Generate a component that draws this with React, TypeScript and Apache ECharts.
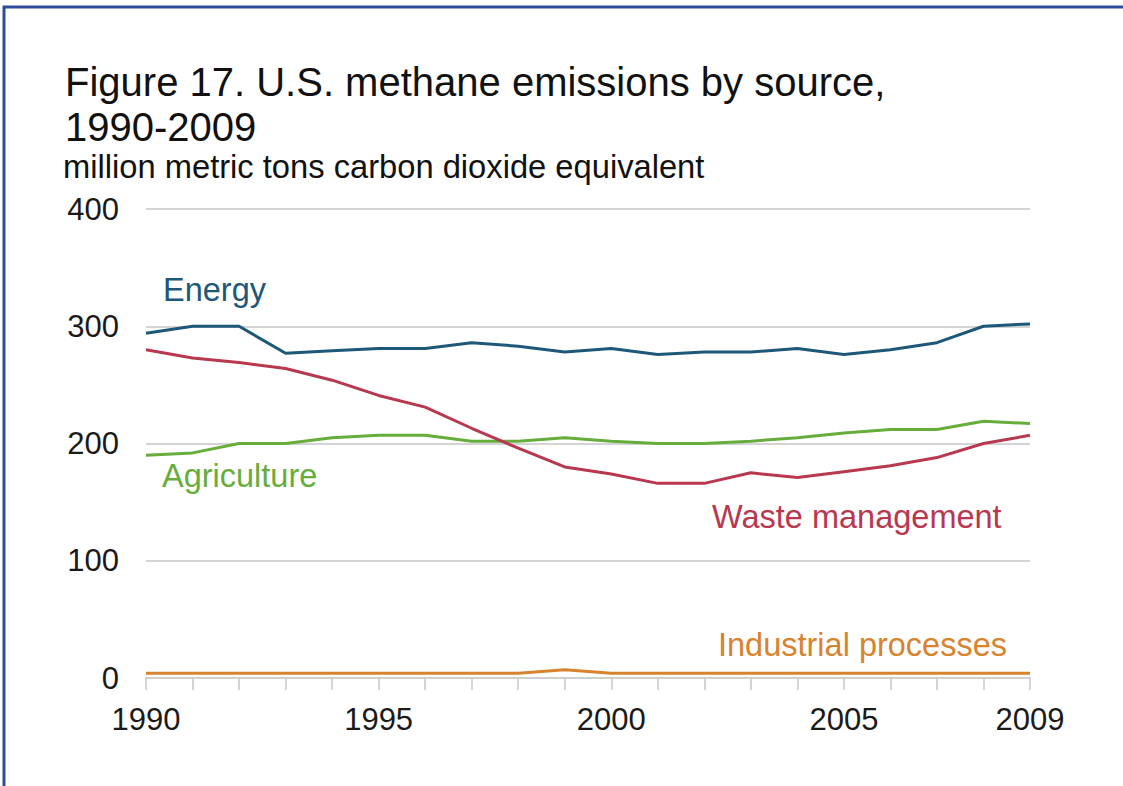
import React, { useEffect, useRef } from "react";
import * as echarts from "echarts";

const years = ["1990","1991","1992","1993","1994","1995","1996","1997","1998","1999","2000","2001","2002","2003","2004","2005","2006","2007","2008","2009"];
const energy = [294, 300, 300, 277, 279, 281, 281, 286, 283, 278, 281, 276, 278, 278, 281, 276, 280, 286, 300, 302];
const waste = [280, 273, 269, 264, 254, 241, 231, 213, 196, 180, 174, 166, 166, 175, 171, 176, 181, 188, 200, 207];
const agriculture = [190, 192, 200, 200, 205, 207, 207, 202, 202, 205, 202, 200, 200, 202, 205, 209, 212, 212, 219, 217];
const industrial = [4, 4, 4, 4, 4, 4, 4, 4, 4, 7, 4, 4, 4, 4, 4, 4, 4, 4, 4, 4];
const yTicks = [0, 100, 200, 300, 400];
const xLabelYears = ["1990", "1995", "2000", "2005", "2009"];

const C_ENERGY = "#1e5878";
const C_WASTE = "#b8384f";
const C_AGRI = "#66ad3c";
const C_IND = "#d8832e";
const FONT = "'Liberation Sans', Arial, sans-serif";

export default function App() {
  const ref = useRef<HTMLDivElement>(null);
  useEffect(() => {
    const chart = echarts.init(ref.current!, null, { renderer: "svg" });
    const mk = (name: string, data: number[], color: string) => ({
      name,
      type: "line",
      data,
      symbol: "none",
      lineStyle: { color, width: 3 },
      itemStyle: { color },
    });
    chart.setOption({
      animation: false,
      backgroundColor: "#ffffff",
      grid: { left: 146, right: 93, top: 209, bottom: 108, containLabel: false },
      xAxis: {
        type: "category",
        data: years,
        boundaryGap: false,
        axisLine: { lineStyle: { color: "#cfcfcf", width: 2 } },
        axisTick: { show: true, length: 12, interval: 0, lineStyle: { color: "#c8c8c8", width: 1.5 } },
        axisLabel: {
          interval: 0,
          margin: 26,
          fontSize: 31,
          fontFamily: FONT,
          color: "#1a1a1a",
          formatter: (v: string) => (xLabelYears.includes(v) ? v : ""),
        },
        splitLine: { show: false },
      },
      yAxis: {
        type: "value",
        min: yTicks[0],
        max: yTicks[yTicks.length - 1],
        interval: 100,
        axisLine: { show: false },
        axisTick: { show: false },
        axisLabel: { margin: 27, fontSize: 31, fontFamily: FONT, color: "#1a1a1a" },
        splitLine: { lineStyle: { color: "#d4d4d4", width: 2 } },
      },
      series: [
        mk("Agriculture", agriculture, C_AGRI),
        mk("Waste management", waste, C_WASTE),
        mk("Energy", energy, C_ENERGY),
        mk("Industrial processes", industrial, C_IND),
      ],
      graphic: [
        { type: "rect", shape: { x: 4, y: 7, width: 1300, height: 900 }, style: { fill: "none", stroke: "#2f4c9c", lineWidth: 3 }, silent: true },
        { type: "text", x: 65, y: 82, style: { text: "Figure 17. U.S. methane emissions by source,", font: `40px ${FONT}`, fill: "#111", textVerticalAlign: "middle" } },
        { type: "text", x: 65, y: 127, style: { text: "1990-2009", font: `40px ${FONT}`, fill: "#111", textVerticalAlign: "middle" } },
        { type: "text", x: 63, y: 166, style: { text: "million metric tons carbon dioxide equivalent", font: `32.7px ${FONT}`, fill: "#111", textVerticalAlign: "middle" } },
        { type: "text", x: 163, y: 290, style: { text: "Energy", font: `32.5px ${FONT}`, fill: C_ENERGY, textVerticalAlign: "middle" } },
        { type: "text", x: 162, y: 476, style: { text: "Agriculture", font: `32.5px ${FONT}`, fill: C_AGRI, textVerticalAlign: "middle" } },
        { type: "text", x: 712, y: 517, style: { text: "Waste management", font: `32.5px ${FONT}`, fill: C_WASTE, textVerticalAlign: "middle" } },
        { type: "text", x: 718, y: 645, style: { text: "Industrial processes", font: `32.5px ${FONT}`, fill: C_IND, textVerticalAlign: "middle" } },
      ],
    });
    return () => chart.dispose();
  }, []);
  return <div ref={ref} style={{ position: "fixed", left: 0, top: 0, width: 1123, height: 786 }} />;
}
